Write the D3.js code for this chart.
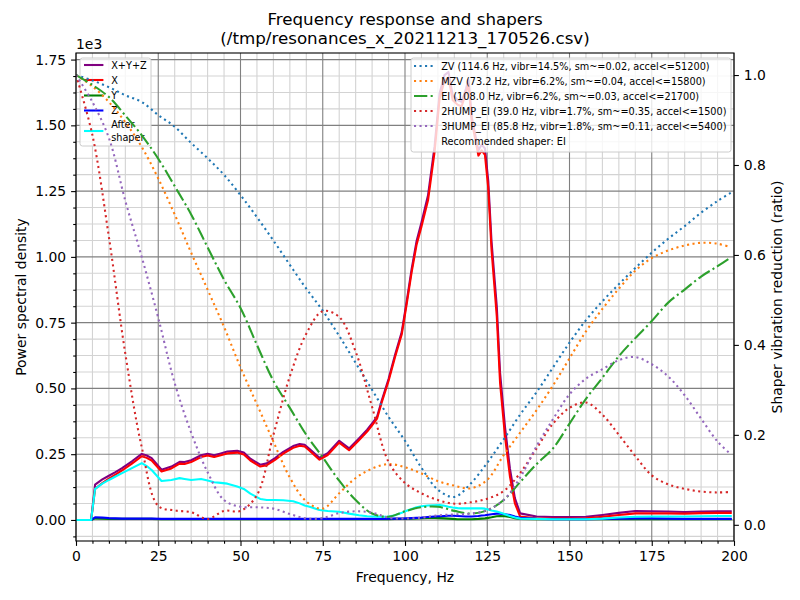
<!DOCTYPE html>
<html><head><meta charset="utf-8">
<script src="https://cdn.jsdelivr.net/npm/d3@7"></script>
<style>body{margin:0;background:#fff;} svg{display:block;font-family:"DejaVu Sans",sans-serif;}</style>
</head><body><svg id="c" width="800" height="600"></svg>
<script>
// ---------------- data ----------------
const psdFreqs = [0,4.6,5.8,8,10,12,14,17,20,21.5,23,26,29,31.5,33,35,38,40,42,44,46,49,51,53,56,58,60.5,63,66,68,69.5,71,74,76.5,80,83,86,88.5,90,91.5,93,95,97,99,100.5,102,103.5,105,107,109,110.5,112,113.2,114.5,116,117.2,118.5,119.3,120.3,122.3,123.3,124.3,125.3,126.3,127.9,128.9,130.4,131.9,133.4,135,140,145,150,155,160,165,170,175,180,185,190,195,199];
const psdX = [0,0,118,140,157,172,188,214,242,236,226,184,196,214,213,220,239,245,239,246,253,256,249,226,203,208,228,252,274,282,279,263,229,247,294,265,303,336,360,385,450,528,620,705,820,940,1045,1115,1215,1400,1600,1670,1682,1595,1578,1572,1622,1658,1515,1385,1405,1388,1262,1027,773,520,317,165,63,13,6,5,5,6,12,19,25,25,25,24,26,27,27];
const psdY = [0,0,6,5,4,4,4,4,4,4,4,3,3,3,3,3,3,3,3,3,3,3,3,3,3,3,3,3,3,3,3,3,3,3,3,3,3,3,3,3,3,3,4,4,4,5,6,7,8,8,7,6,5,4,3,3,3,3,3,4,5,6,8,10,14,15,14,11,7,4,3,3,3,3,3,3,3,3,3,3,3,3,3];
const psdZ = [0,0,10,9,7,6,5,5,5,5,5,4,4,4,4,4,4,4,4,4,4,4,4,4,4,4,4,4,4,4,4,4,4,4,4,4,4,4,4,4,4,5,5,5,6,7,8,9,11,13,14,15,16,16,15,14,13,13,13,15,17,18,20,22,24,24,22,19,13,8,4,3,3,3,4,5,6,6,5,4,4,4,4];
const psdXYZ = [0,0,134,154,168,182,197,223,251,245,235,191,203,221,220,227,246,252,246,253,260,263,256,233,210,215,235,259,281,289,286,270,236,254,301,272,310,343,367,392,457,536,629,714,830,952,1059,1131,1234,1421,1621,1691,1703,1615,1596,1589,1638,1674,1531,1404,1427,1412,1290,1059,811,559,353,195,83,25,13,11,11,12,19,27,34,33,32,30,32,33,33];
const psdAfter = [0,0,118,138,152,165,178,197,216,205,190,148,152,159,156,152,156,150,143,141,138,127,118,100,80,76,76,75,71,63,55,50,38,34,31,24,18,14,13,12,12,13,18,27,35,42,48,52,55,56,57,54,50,47,45,44,44,44,44,44,44,43,40,36,32,28,22,15,9,5,4,3,3,3,5,9,12,13,13,13,14,15,15];

const shaperFreqs = [0,5,10,15,20,25,30,35,40,45,50,55,60,65,70,75,80,85,90,95,100,105,110,115,120,125,130,135,140,145,150,155,160,165,170,175,180,185,190,195,199];
const zvVals    = [1.0,0.988,0.973,0.955,0.94,0.911,0.885,0.849,0.815,0.778,0.733,0.684,0.632,0.578,0.525,0.476,0.42,0.36,0.30,0.24,0.187,0.127,0.078,0.062,0.092,0.138,0.19,0.245,0.295,0.35,0.405,0.455,0.497,0.535,0.571,0.605,0.636,0.664,0.694,0.72,0.738];
const mzvVals   = [1.0,0.975,0.94,0.895,0.84,0.77,0.69,0.605,0.523,0.44,0.35,0.268,0.185,0.105,0.052,0.036,0.07,0.104,0.125,0.135,0.128,0.114,0.097,0.087,0.081,0.1,0.155,0.205,0.255,0.31,0.37,0.43,0.48,0.525,0.565,0.593,0.61,0.621,0.627,0.625,0.617];
const eiVals    = [1.0,0.978,0.951,0.91,0.866,0.814,0.753,0.69,0.617,0.545,0.482,0.40,0.32,0.26,0.2,0.15,0.098,0.055,0.025,0.018,0.03,0.039,0.04,0.031,0.025,0.032,0.055,0.095,0.135,0.17,0.225,0.28,0.327,0.375,0.415,0.453,0.494,0.523,0.552,0.575,0.594];
const hump2Vals = [1.0,0.866,0.64,0.38,0.172,0.042,0.032,0.028,0.013,0.031,0.031,0.066,0.2,0.33,0.425,0.475,0.462,0.385,0.262,0.14,0.093,0.07,0.055,0.047,0.05,0.058,0.075,0.115,0.17,0.225,0.26,0.272,0.245,0.2,0.153,0.11,0.09,0.08,0.074,0.072,0.073];
const hump3Vals = [1.0,0.94,0.86,0.72,0.595,0.46,0.315,0.205,0.117,0.055,0.04,0.039,0.036,0.024,0.014,0.015,0.026,0.03,0.027,0.016,0.014,0.016,0.021,0.023,0.025,0.033,0.055,0.105,0.175,0.235,0.29,0.325,0.346,0.366,0.373,0.357,0.33,0.288,0.236,0.185,0.157];

const psdLabels = ["X+Y+Z","X","Y","Z","After\nshaper"];
const shaperLabels = [
  "ZV (114.6 Hz, vibr=14.5%, sm~=0.02, accel<=51200)",
  "MZV (73.2 Hz, vibr=6.2%, sm~=0.04, accel<=15800)",
  "EI (108.0 Hz, vibr=6.2%, sm~=0.03, accel<=21700)",
  "2HUMP_EI (39.0 Hz, vibr=1.7%, sm~=0.35, accel<=1500)",
  "3HUMP_EI (85.8 Hz, vibr=1.8%, sm~=0.11, accel<=5400)"
];
const recommendedLabel = "Recommended shaper: EI";
const titleLines = ["Frequency response and shapers","(/tmp/resonances_x_20211213_170526.csv)"];
const xTicks = [0,25,50,75,100,125,150,175,200];
const leftTicks = [0,250,500,750,1000,1250,1500,1750];
const leftTickLabels = ["0.00","0.25","0.50","0.75","1.00","1.25","1.50","1.75"];
const rightTicks = [0,0.2,0.4,0.6,0.8,1.0];
const rightTickLabels = ["0.0","0.2","0.4","0.6","0.8","1.0"];

// ---------------- layout ----------------
const L=76,R=734,T=53,B=541;
const svg = d3.select("#c");
const x = d3.scaleLinear().domain([0,200]).range([L,R]);
const yL = d3.scaleLinear().domain([-80,1775]).range([B,T]);
const yR = d3.scaleLinear().domain([-0.036,1.049]).range([B,T]);
const FS = 13.9, LFS = 9.72;

svg.append("defs").append("clipPath").attr("id","clip")
  .append("rect").attr("x",L).attr("y",T).attr("width",R-L).attr("height",B-T);

// grid (ax1)
const grid = svg.append("g");
const xMinor = d3.range(0,201,5).filter(v=>v%25!==0);
const yMinor = d3.range(-62.5,1775,62.5).filter(v=>Math.abs(v%250)>1e-6);
grid.selectAll(".xm").data(xMinor).join("line").attr("x1",d=>x(d)).attr("x2",d=>x(d)).attr("y1",T).attr("y2",B).attr("stroke","#d3d3d3").attr("stroke-width",1.1);
grid.selectAll(".ym").data(yMinor).join("line").attr("y1",d=>yL(d)).attr("y2",d=>yL(d)).attr("x1",L).attr("x2",R).attr("stroke","#d3d3d3").attr("stroke-width",1.1);
grid.selectAll(".xM").data(xTicks).join("line").attr("x1",d=>x(d)).attr("x2",d=>x(d)).attr("y1",T).attr("y2",B).attr("stroke","#808080").attr("stroke-width",1.1);
grid.selectAll(".yM").data(leftTicks).join("line").attr("y1",d=>yL(d)).attr("y2",d=>yL(d)).attr("x1",L).attr("x2",R).attr("stroke","#808080").attr("stroke-width",1.1);

// psd lines (ax1)
const ax1 = svg.append("g").attr("clip-path","url(#clip)");
const psdSeries = [
  {vals:psdXYZ, color:"#800080"},
  {vals:psdX, color:"#ff0000"},
  {vals:psdY, color:"#008000"},
  {vals:psdZ, color:"#0000ff"},
  {vals:psdAfter, color:"#00ffff"}
];
const psdLine = d3.line().x((d,i)=>x(psdFreqs[i])).y(d=>yL(d));
psdSeries.forEach(s=>{
  ax1.append("path").attr("d",psdLine(s.vals)).attr("fill","none").attr("stroke",s.color)
    .attr("stroke-width",2.08).attr("stroke-linejoin","round").attr("stroke-linecap","square");
});

// ax1 legend
const leg1 = svg.append("g");
leg1.append("rect").attr("x",80).attr("y",58).attr("width",71).attr("height",88).attr("rx",2.5)
  .attr("fill","#fff").attr("fill-opacity",0.8).attr("stroke","#cccccc").attr("stroke-width",1);
const leg1Rows = [65,80,95.5,110.5,131];
psdLabels.forEach((lab,i)=>{
  const yy = leg1Rows[i];
  leg1.append("line").attr("x1",84).attr("x2",103.4).attr("y1",yy).attr("y2",yy)
    .attr("stroke",psdSeries[i].color).attr("stroke-width",2.08);
  const lines = lab.split("\n");
  const t = leg1.append("text").attr("font-size",LFS).attr("fill","#000");
  lines.forEach((ln,j)=>{
    const cy = yy + (j - (lines.length-1)/2)*13.5;
    t.append("tspan").attr("x",111.2).attr("y",cy+3.5).text(ln);
  });
});

// shaper lines (ax2)
const ax2 = svg.append("g").attr("clip-path","url(#clip)");
const dotted = "2.08,3.44", dashdot = "13.3,3.33,2.08,3.33";
const shaperSeries = [
  {vals:zvVals, color:"#1f77b4", dash:dotted},
  {vals:mzvVals, color:"#ff7f0e", dash:dotted},
  {vals:eiVals, color:"#2ca02c", dash:dashdot},
  {vals:hump2Vals, color:"#d62728", dash:dotted},
  {vals:hump3Vals, color:"#9467bd", dash:dotted}
];
const shLine = d3.line().x((d,i)=>x(shaperFreqs[i])).y(d=>yR(d)).curve(d3.curveCatmullRom.alpha(0.5));
shaperSeries.forEach(s=>{
  ax2.append("path").attr("d",shLine(s.vals)).attr("fill","none").attr("stroke",s.color)
    .attr("stroke-width",2.08).attr("stroke-dasharray",s.dash).attr("stroke-linecap","butt");
});

// spines
svg.append("rect").attr("x",L).attr("y",T).attr("width",R-L).attr("height",B-T)
  .attr("fill","none").attr("stroke","#000").attr("stroke-width",1.1);

// axes
function styleAxis(g){ g.select(".domain").remove(); g.selectAll("line").attr("stroke","#000").attr("stroke-width",1.1); g.selectAll("text").attr("font-size",FS).attr("fill","#000").attr("font-family","DejaVu Sans, sans-serif"); }
svg.append("g").attr("transform",`translate(0,${B})`)
  .call(d3.axisBottom(x).tickValues(xMinor).tickSize(2.8).tickFormat("")).call(styleAxis);
svg.append("g").attr("transform",`translate(0,${B})`)
  .call(d3.axisBottom(x).tickValues(xTicks).tickSize(4.9).tickPadding(4.9).tickFormat(d3.format("d"))).call(styleAxis);
svg.append("g").attr("transform",`translate(${L},0)`)
  .call(d3.axisLeft(yL).tickValues(yMinor).tickSize(2.8).tickFormat("")).call(styleAxis);
svg.append("g").attr("transform",`translate(${L},0)`)
  .call(d3.axisLeft(yL).tickValues(leftTicks).tickSize(4.9).tickPadding(4.9).tickFormat((d,i)=>leftTickLabels[i])).call(styleAxis);
svg.append("g").attr("transform",`translate(${R},0)`)
  .call(d3.axisRight(yR).tickValues(rightTicks).tickSize(4.9).tickPadding(4.9).tickFormat((d,i)=>rightTickLabels[i])).call(styleAxis);

// ax2 legend
const leg2 = svg.append("g");
leg2.append("rect").attr("x",411).attr("y",58).attr("width",320).attr("height",94).attr("rx",2.5)
  .attr("fill","#fff").attr("fill-opacity",0.8).attr("stroke","#cccccc").attr("stroke-width",1);
const leg2Rows = [66,81,96,111,126,141];
shaperLabels.forEach((lab,i)=>{
  const yy = leg2Rows[i];
  leg2.append("line").attr("x1",414).attr("x2",433.4).attr("y1",yy).attr("y2",yy)
    .attr("stroke",shaperSeries[i].color).attr("stroke-width",2.08).attr("stroke-dasharray",shaperSeries[i].dash);
  leg2.append("text").attr("x",441.2).attr("y",yy+3.5).attr("font-size",LFS).attr("fill","#000").text(lab);
});
leg2.append("text").attr("x",441.2).attr("y",leg2Rows[5]+3.5).attr("font-size",LFS).attr("fill","#000").text(recommendedLabel);

// texts
const title = svg.append("text").attr("text-anchor","middle").attr("font-size",16.7);
title.append("tspan").attr("x",405).attr("y",25).text(titleLines[0]);
title.append("tspan").attr("x",405).attr("y",44).text(titleLines[1]);
svg.append("text").attr("x",76).attr("y",49).attr("font-size",FS).text("1e3");
svg.append("text").attr("x",405).attr("y",582).attr("text-anchor","middle").attr("font-size",FS).text("Frequency, Hz");
svg.append("text").attr("transform",`translate(26,${(T+B)/2}) rotate(-90)`).attr("text-anchor","middle").attr("font-size",FS).text("Power spectral density");
svg.append("text").attr("transform",`translate(782,${(T+B)/2}) rotate(-90)`).attr("text-anchor","middle").attr("font-size",FS).text("Shaper vibration reduction (ratio)");
</script></body></html>
